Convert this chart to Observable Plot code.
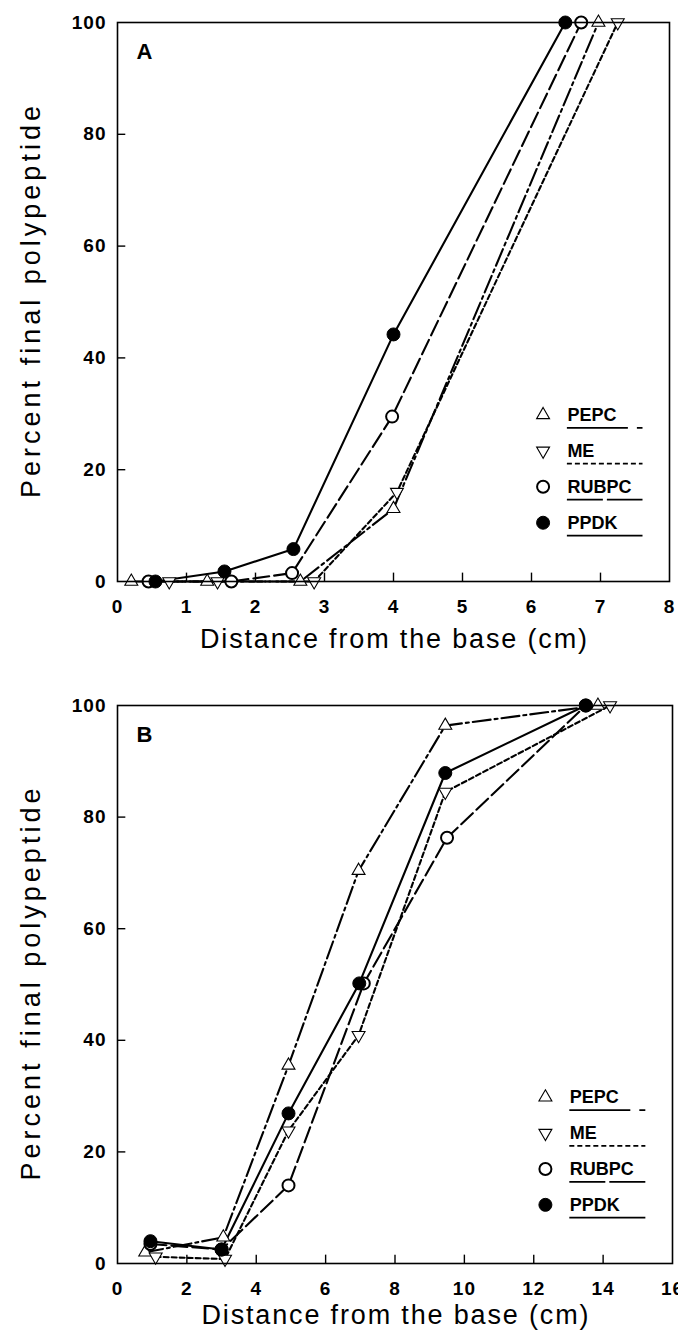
<!DOCTYPE html>
<html><head><meta charset="utf-8">
<script src="https://cdn.jsdelivr.net/npm/d3@7"></script>
<script src="https://cdn.jsdelivr.net/npm/@observablehq/plot@0.6"></script>
<style>
body{margin:0;background:#fff;}
#chart svg{display:block;}
</style></head><body><div id="chart"></div>
<script>
// ---------- data ----------
const enzymes = ["PEPC", "ME", "RUBPC", "PPDK"];
const yTicks = [0, 20, 40, 60, 80, 100];
const xTicksA = [0, 1, 2, 3, 4, 5, 6, 7, 8];
const xTicksB = [0, 2, 4, 6, 8, 10, 12, 14, 16];
const xTitle = "Distance from the base (cm)";
const yTitle = "Percent final polypeptide";

// Panel A
const aPEPCx = [0.2, 1.3, 2.65, 4.0, 6.97];
const aPEPCy = [0, 0, 0, 13, 100];
const aMEx = [0.75, 1.45, 2.85, 4.05, 7.25];
const aMEy = [0, 0, 0, 16, 100];
const aRUBPCx = [0.45, 1.65, 2.53, 3.98, 6.72];
const aRUBPCy = [0, 0, 1.5, 29.5, 100];
const aPPDKx = [0.55, 1.55, 2.55, 4.0, 6.49];
const aPPDKy = [0, 1.8, 5.8, 44.2, 100];

// Panel B
const bPEPCx = [0.8, 3.05, 4.93, 6.95, 9.45, 13.85];
const bPEPCy = [2, 4.7, 35.5, 70.4, 96.4, 100];
const bMEx = [1.1, 3.1, 4.93, 6.95, 9.45, 14.2];
const bMEy = [1.2, 0.8, 23.8, 40.9, 84.5, 100];
const bRUBPCx = [0.95, 3.0, 4.93, 7.1, 9.5, 13.5];
const bRUBPCy = [3.5, 2.5, 14, 50.2, 76.3, 100];
const bPPDKx = [0.95, 3.0, 4.93, 6.97, 9.45, 13.5];
const bPPDKy = [4, 2.5, 26.9, 50.2, 87.9, 100];

// ---------- styles ----------
const FONT = "'Liberation Sans', Arial, Helvetica, sans-serif";
const sty = {
  PEPC:  {symbol: "triangle", rotate: 0,   r: 4.8, fill: "white", sw: 1.1, dash: "18,4,3,4", legDash: "61,9,6,300"},
  ME:    {symbol: "triangle", rotate: 180, r: 4.8, fill: "white", sw: 1.1, dash: "5,3",      legDash: "5,3"},
  RUBPC: {symbol: "circle",   rotate: 0,   r: 6,   fill: "white", sw: 2,   dash: "16,5",     legDash: "36,4"},
  PPDK:  {symbol: "circle",   rotate: 0,   r: 6.5, fill: "black", sw: 1,   dash: null,       legDash: null}
};

function rows(xs, ys) { return xs.map((x, i) => ({x, y: ys[i]})); }

function panel({series, xMax, xTicks, letter, height, marginTop, marginBottom, marginRight, titleDy}) {
  const marks = [];
  // inward ticks
  marks.push(Plot.ruleX(xTicks.filter(t => t > 0 && t < xMax), {x: d => d, y1: 0, y2: 1.5, stroke: "black", strokeWidth: 1.4}));
  marks.push(Plot.ruleY(yTicks.filter(t => t > 0 && t < 100), {y: d => d, x1: 0, x2: xMax * 0.015, stroke: "black", strokeWidth: 1.4}));
  // lines
  for (const name of enzymes) {
    const s = sty[name];
    const o = {x: "x", y: "y", stroke: "black", strokeWidth: 2.1};
    if (s.dash) o.strokeDasharray = s.dash;
    marks.push(Plot.line(series[name], o));
  }
  // markers
  for (const name of enzymes) {
    const s = sty[name];
    marks.push(Plot.dot(series[name], {x: "x", y: "y", symbol: s.symbol, rotate: s.rotate, r: s.r,
      fill: s.fill, stroke: "black", strokeWidth: s.sw}));
  }
  // legend
  const legY = enzymes.map((n, i) => ({name: n, y: 29.8 - i * 6.43}));
  const symX = xMax * 0.771, txtX = xMax * 0.815, endX = xMax * 0.952;
  legY.forEach(({name, y}) => {
    const s = sty[name];
    marks.push(Plot.dot([name], {x: () => symX, y: () => y, symbol: s.symbol, rotate: s.rotate, r: s.r,
      fill: s.fill, stroke: "black", strokeWidth: s.sw}));
    marks.push(Plot.text([name], {x: () => txtX, y: () => y, text: d => d, textAnchor: "start",
      fontSize: 18, fontWeight: "bold", fill: "black"}));
    const lo = {y: () => y - 2.3, x1: () => txtX, x2: () => endX, stroke: "black", strokeWidth: 1.8};
    if (s.legDash) lo.strokeDasharray = s.legDash;
    marks.push(Plot.ruleY([name], lo));
  });
  // panel letter
  marks.push(Plot.text([letter], {frameAnchor: "top-left", dx: 19, dy: 21, fontSize: 22, fontWeight: "bold", fill: "black"}));
  // frame
  marks.push(Plot.frame({stroke: "black", strokeWidth: 1.6}));
  // axes
  marks.push(Plot.axisX(xTicks, {tickSize: 0, tickPadding: 18, fontSize: 19, fontWeight: "bold", label: null}));
  marks.push(Plot.axisY(yTicks, {tickSize: 0, tickPadding: 11, fontSize: 19, fontWeight: "bold", label: null}));
  // titles
  marks.push(Plot.text([xTitle], {frameAnchor: "bottom", dy: titleDy, lineAnchor: "middle", textAnchor: "middle",
    fontSize: 27, fontWeight: "normal", fill: "black"}));
  marks.push(Plot.text([yTitle], {frameAnchor: "left", dx: -86, rotate: -90, lineAnchor: "middle", textAnchor: "middle",
    fontSize: 27, fontWeight: "normal", fill: "black"}));

  const svg = Plot.plot({
    width: 678, height, marginLeft: 117, marginRight, marginTop, marginBottom,
    x: {domain: [0, xMax]}, y: {domain: [0, 100]},
    style: {fontFamily: FONT, color: "black", background: "white", overflow: "visible"},
    marks
  });
  const texts = d3.select(svg).selectAll("text");
  texts.filter(function () { return this.textContent === xTitle; })
    .attr("textLength", 387).attr("lengthAdjust", "spacing");
  texts.filter(function () { return this.textContent === yTitle; })
    .attr("textLength", 392).attr("lengthAdjust", "spacing");
  texts.filter(function () { return /^\d+$/.test(this.textContent); })
    .style("font-size", "19px").style("font-weight", "bold").style("letter-spacing", "1px");
  return svg;
}

const seriesA = {PEPC: rows(aPEPCx, aPEPCy), ME: rows(aMEx, aMEy), RUBPC: rows(aRUBPCx, aRUBPCy), PPDK: rows(aPPDKx, aPPDKy)};
const seriesB = {PEPC: rows(bPEPCx, bPEPCy), ME: rows(bMEx, bMEy), RUBPC: rows(bRUBPCx, bRUBPCy), PPDK: rows(bPPDKx, bPPDKy)};

const root = document.getElementById("chart");
root.appendChild(panel({series: seriesA, xMax: 8, xTicks: xTicksA, letter: "A", height: 660,
  marginTop: 22, marginBottom: 79, marginRight: 9, titleDy: 58}));
root.appendChild(panel({series: seriesB, xMax: 16, xTicks: xTicksB, letter: "B", height: 674,
  marginTop: 45, marginBottom: 71, marginRight: 6, titleDy: 52}));
</script></body></html>
